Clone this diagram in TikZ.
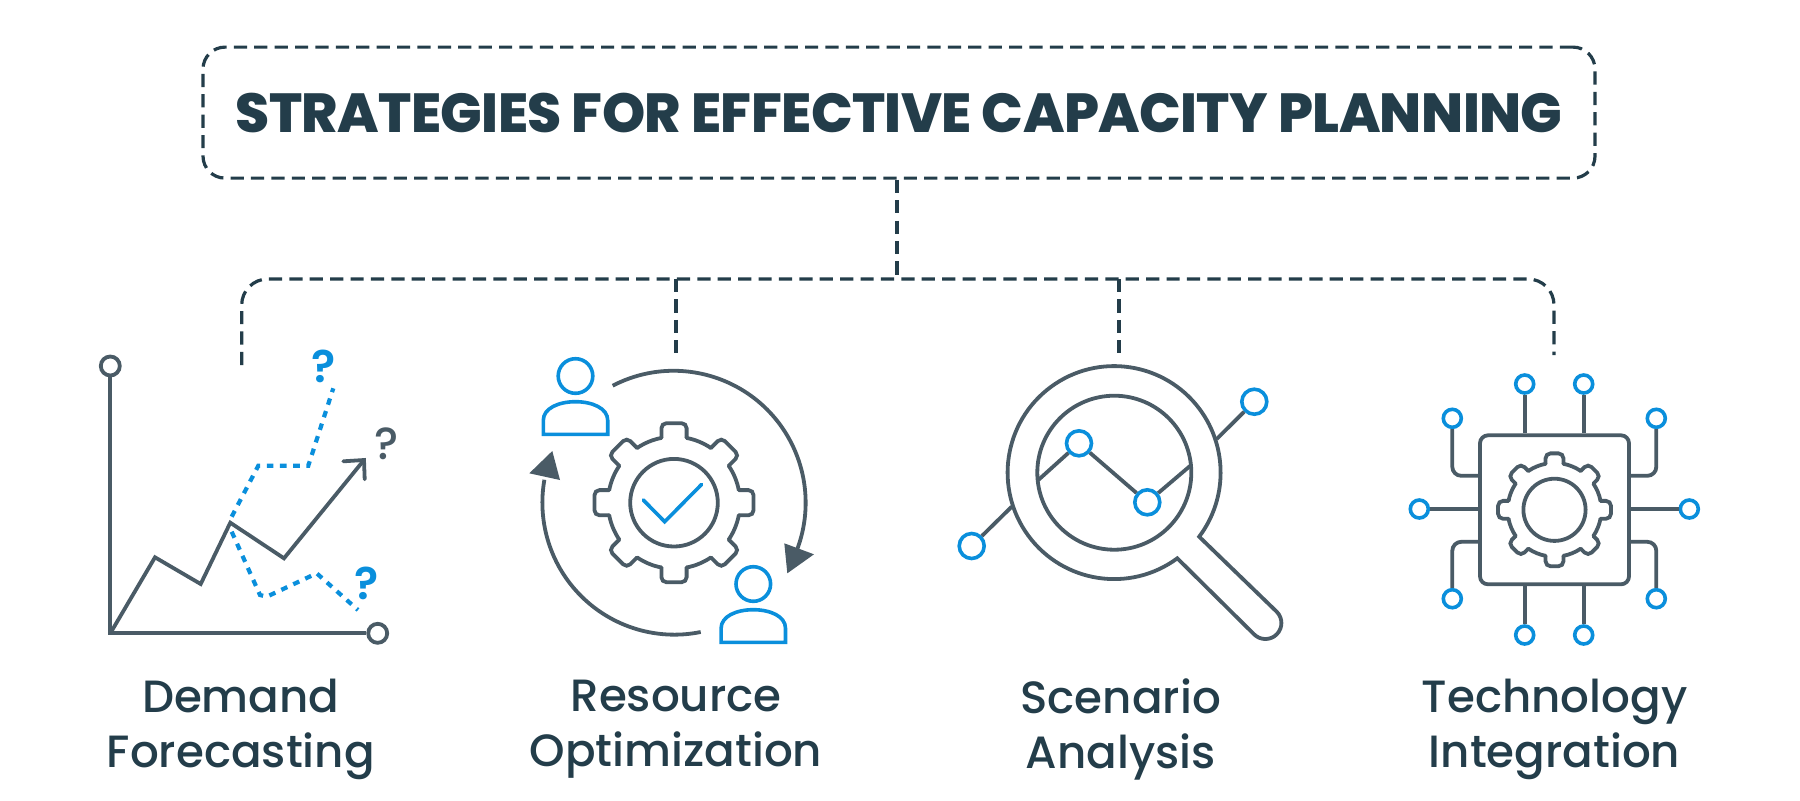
\documentclass[tikz,border=0pt]{standalone}
\usepackage{fontspec}
\setmainfont{Poppins}
\newfontfamily\titlefont{Poppins}[UprightFont=* ExtraBold,LetterSpace=-1.0]
\newfontfamily\questfont{Poppins}[UprightFont=* SemiBold]
\newfontfamily\capfont{Poppins}[UprightFont=* Medium]
\usetikzlibrary{calc}
\definecolor{inkdark}{HTML}{233D4A}
\definecolor{inkgray}{HTML}{4A5B66}
\definecolor{inkblue}{HTML}{0A8FDC}
\tikzset{
    link/.style={draw=inkdark,line width=1.6pt,dash pattern=on 6.6pt off 3.6pt},
    iconline/.style={draw=inkgray,line width=1.9pt},
    blueline/.style={draw=inkblue,line width=1.8pt},
    dotline/.style={draw=inkblue,line width=2.1pt,dash pattern=on 3.3pt off 3.3pt},
    caption/.style={font=\capfont\fontsize{22.6}{27.5}\selectfont,text=inkdark,align=center,inner sep=0pt},
    quest/.style={font=\questfont\fontsize{22.5}{22.5}\selectfont,inner sep=0pt},
    graydot/.style={circle,iconline,fill=white,inner sep=0pt,minimum size=9.5pt},
    bluedot/.style={circle,blueline,fill=white,inner sep=0pt,minimum size=#1},
    bluedot/.default=9pt,
    person/.pic={
        \draw[blueline] (0,-58.3) circle (17.3);
        \draw[blueline] (-32.2,0) -- (-32.2,-14) .. controls (-32.2,-26) and (-17,-32.6) .. (0,-32.6)
            .. controls (17,-32.6) and (32.2,-26) .. (32.2,-14) -- (32.2,0) -- cycle;
    },
    gearicon/.pic={
        \foreach \a in {0,45,...,315} {
            \draw[iconline,rounded corners=2.5pt,line cap=round] (\a-11:66) -- (\a-9:80.5) -- (\a+9:80.5) -- (\a+11:66);
            \draw[iconline,line cap=round] (\a+11:66) arc[start angle=\a+11,end angle=\a+34,radius=66];
        }
        \draw[iconline] (0,0) circle (43.8);
    },
}
\begin{document}
\begin{tikzpicture}[x=0.5pt,y=-0.5pt]
    \useasboundingbox (0,0) rectangle (1800,800);

    \node[link,rounded corners=11pt,minimum width=696pt,minimum height=65.5pt,
        font=\titlefont\fontsize{27.5}{27.5}\selectfont,text=inkdark,inner sep=0pt] (title) at (899,112.6) {STRATEGIES FOR EFFECTIVE CAPACITY PLANNING};
    \coordinate (trunk) at (897,279);
    \coordinate (dropa) at (241.7,365);
    \coordinate (dropb) at (676,355);
    \coordinate (dropc) at (1119,355);
    \coordinate (dropd) at (1554,355);
    \draw[link] (title.south -| trunk) -- (trunk);
    \draw[link,rounded corners=13pt] (dropa) |- (trunk) -| (dropd);
    \draw[link] (dropb |- trunk) -- (dropb);
    \draw[link] (dropc |- trunk) -- (dropc);

    \node[caption] (capa) at (240.8,729.5) {Demand\\Forecasting};
    \node[caption] (capb) at (676,729.5) {Resource\\Optimization};
    \node[caption] (capc) at (1120.7,729.5) {Scenario\\Analysis};
    \node[caption] (capd) at (1554.5,729.5) {Technology\\Integration};

    % forecast chart
    \node[graydot] (axisy) at (110.3,366) {};
    \node[graydot] (axisx) at (377.7,633.3) {};
    \coordinate (origin) at (110.3,633.3);
    \draw[iconline] (axisy) -- (origin) -- (axisx);
    \draw[iconline,line join=miter] (origin) -- (155,557.3) -- (200.7,584) -- (230.3,522.7) -- (284,558.3) -- (364,460);
    \draw[iconline,line cap=round] (343.3,461.3) -- (364,460) -- (364.7,479.3);
    \draw[dotline] (231.7,516.7) -- (258.3,465.7) -- (308.3,465.7) -- (333.3,388.3);
    \draw[dotline] (231.7,531.7) -- (260,595) -- (266.7,596.7) -- (316.7,573.3) -- (358,610);
    \node[quest,text=inkblue] (qup) at (323.3,366) {?};
    \node[quest,font=\capfont\fontsize{22.5}{22.5}\selectfont,text=inkgray] (qmid) at (386.7,444) {?};
    \node[quest,text=inkblue] (qlow) at (366.7,583.3) {?};

    % gear with cycle
    \pic at (674,502.7) {gearicon};
    \draw[blueline,line cap=round] (643.3,500) -- (664.7,521.7) -- (701.7,484.3);
    \draw[iconline] (612.7,385.7) arc[start angle=-117.5,end angle=21,radius=132];
    \fill[inkgray] (784.3,543.3) -- (814,554.3) -- (787.3,573.3) -- cycle;
    \draw[iconline] (700.7,632) arc[start angle=78.5,end angle=190,radius=132];
    \fill[inkgray] (552.3,451) -- (529.3,473.3) -- (560,480) -- cycle;
    \pic at (575.5,434.3) {person};
    \pic at (753.3,642.3) {person};

    % magnifier
    \draw[iconline] (1114.3,472.7) circle (77);
    \draw[iconline] (1177.3,558.3) arc[start angle=53.6,end angle=397,radius=106.5]
        -- (1276.7,611.7) arc[start angle=-45,end angle=135,radius=16] -- cycle;
    \node[bluedot=12.5pt] (plota) at (971.7,546) {};
    \node[bluedot=12.5pt] (plotb) at (1079,443.3) {};
    \node[bluedot=12.5pt] (plotc) at (1147.3,502.3) {};
    \node[bluedot=12.5pt] (plotd) at (1254.3,401.7) {};
    \coordinate (rima) at (1011.7,506.7);
    \coordinate (rimb) at (1038.3,480);
    \coordinate (rimc) at (1190,466);
    \coordinate (rimd) at (1216.7,439);
    \draw[iconline] (plota) -- (rima);
    \draw[iconline] (rimb) -- (plotb);
    \draw[iconline] (plotb) -- (plotc);
    \draw[iconline] (plotc) -- (rimc);
    \draw[iconline] (rimd) -- (plotd);

    % chip
    \node[iconline,rounded corners=4pt,minimum size=74.5pt,inner sep=0pt] (chip) at (1554.5,509.8) {};
    \pic[scale=0.71] at (chip.center) {gearicon};
    \foreach \n/\px in {a/-29.8,b/29.2} {
        \node[bluedot] (pin\n) at ($(chip)+(\px,-125.8)$) {};
        \draw[iconline] (pin\n) -- (pin\n |- chip.north);
        \node[bluedot] (pon\n) at ($(chip)+(\px,125.2)$) {};
        \draw[iconline] (pon\n) -- (pon\n |- chip.south);
    }
    \node[bluedot] (pinl) at (1419.3,509) {};
    \node[bluedot] (pinr) at (1689.3,509) {};
    \draw[iconline] (pinl) -- (pinl -| chip.west);
    \draw[iconline] (pinr) -- (pinr -| chip.east);
    \foreach \n/\px/\py/\side/\ly in {ul/1452.3/418.3/west/-34, ll/1452.3/598.7/west/32, ur/1656.3/418.3/east/-34, lr/1656.3/598.7/east/32} {
        \node[bluedot] (pin\n) at (\px,\py) {};
        \draw[iconline,rounded corners=4.5pt] (pin\n) |- ($(chip.\side)+(0,\ly)$);
    }
\end{tikzpicture}
\end{document}
